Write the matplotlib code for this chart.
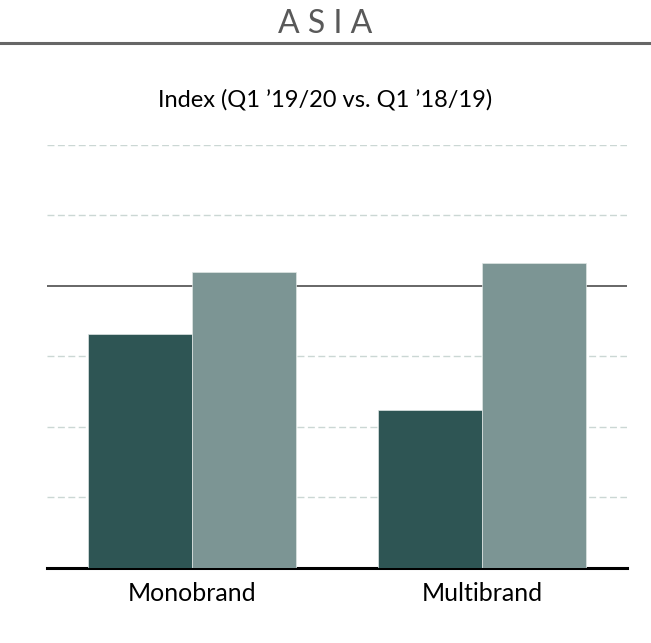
import matplotlib.pyplot as plt
import numpy as np

plt.rcParams['font.family'] = ['Lato', 'DejaVu Sans']

# index values, Q1 '19/20 vs Q1 '18/19
categories = ['Monobrand', 'Multibrand']
series_a = [93.2, 82.4]     # dark bars
series_b = [101.9, 103.2]   # light bars
y_ticks = [60, 70, 80, 90, 100, 110, 120]

DARK = '#2e5554'
LIGHT = '#7c9594'

fig = plt.figure(figsize=(6.51, 6.43), dpi=100)
ax = fig.add_axes([47 / 651, 1 - 567.7 / 643, 580 / 651, (567.7 - 144.7) / 643])

x = np.arange(len(categories))
w = 0.357
ax.bar(x - w / 2, series_a, w, color=DARK, edgecolor='#dfe6e4', linewidth=0.5, zorder=3)
ax.bar(x + w / 2, series_b, w, color=LIGHT, edgecolor='#dfe6e4', linewidth=0.5, zorder=3)

ax.set_ylim(60, 120)
ax.set_xlim(-0.5, 1.5)
# 100 = same level as last year, drawn solid; the rest dashed
for yv in y_ticks[1:]:
    if yv == 100:
        ax.axhline(yv, color='#5a5a5a', lw=1.3, zorder=2)
    else:
        ax.axhline(yv, color='#cbd7d4', lw=1.0, ls=(0, (5, 2.5)), zorder=1)

for s in ['top', 'right', 'left']:
    ax.spines[s].set_visible(False)
ax.spines['bottom'].set_linewidth(2.2)
ax.spines['bottom'].set_color('black')
ax.set_yticks([])
ax.set_xticks(x)
ax.set_xticklabels(categories, fontsize=18)
ax.tick_params(axis='x', length=0, pad=10)

fig.text(0.5, 1 - 33 / 643, 'A S I A', ha='center', va='baseline', fontsize=23, color='#595959')
fig.add_artist(plt.Line2D([0, 1], [1 - 42.5 / 643] * 2, color='#666666', lw=2.2))
fig.text(0.5, 1 - 106 / 643, 'Index (Q1 \u201919/20 vs. Q1 \u201918/19)', ha='center', va='baseline',
         fontsize=17, color='black')

plt.savefig('out.png', dpi=100)
